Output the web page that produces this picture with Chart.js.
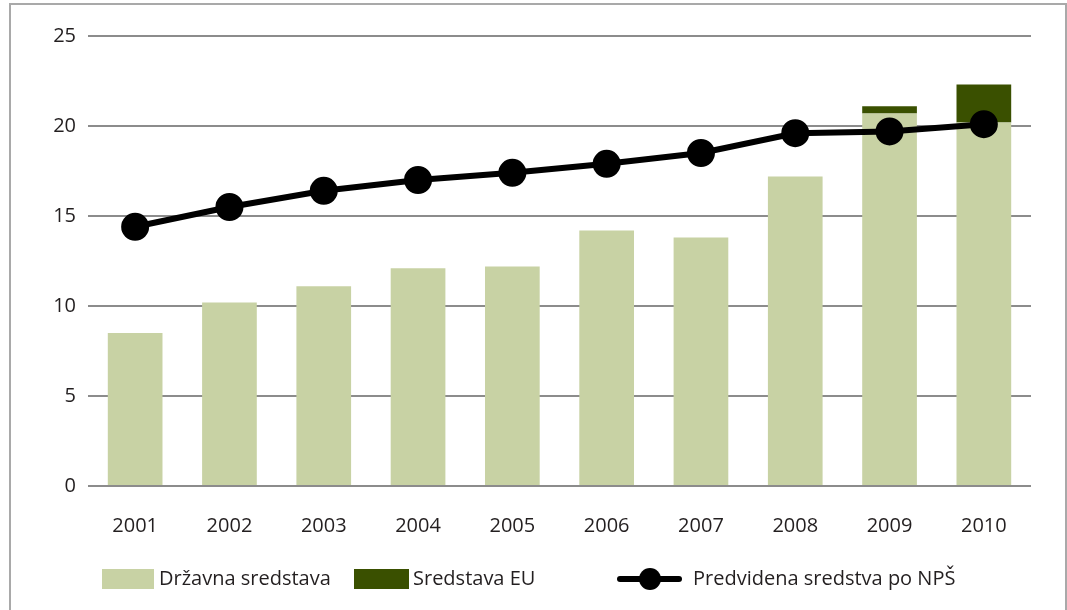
<!DOCTYPE html>
<html>
<head>
<meta charset="utf-8">
<script src="https://cdn.jsdelivr.net/npm/chart.js@4"></script>
<style>
  body { margin: 0; background: #fff; }
  #wrap { position: relative; width: 1067px; height: 610px; }
  #frame { position: absolute; left: 9px; top: 3px; width: 1058px; height: 610px; border: 2px solid #a9a9a9; border-bottom: none; box-sizing: border-box; }
  canvas { position: absolute; left: 0; top: 0; }
  .legend { position: absolute; top: 566px; font-family: "Open Sans", sans-serif; font-size: 20px; color: #231f20; line-height: 24px; }
  .item { position: absolute; white-space: nowrap; }
  .sw { position: absolute; top: 3px; height: 20px; }
</style>
</head>
<body>
<div id="wrap">
  <div id="frame"></div>
  <canvas id="chart" width="1067" height="610"></canvas>
  <div class="legend" id="legend"></div>
</div>
<script>
// data
const years = ["2001", "2002", "2003", "2004", "2005", "2006", "2007", "2008", "2009", "2010"];
const drzavna = [8.5, 10.2, 11.1, 12.1, 12.2, 14.2, 13.8, 17.2, 20.7, 20.2];
const eu = [0, 0, 0, 0, 0, 0, 0, 0, 0.4, 2.1];
const nps = [14.4, 15.5, 16.4, 17.0, 17.4, 17.9, 18.5, 19.6, 19.7, 20.1];
const yTicks = [0, 5, 10, 15, 20, 25];

const labels = ["Državna sredstava", "Sredstava EU", "Predvidena sredstva po NPŠ"];
const lightGreen = "#c8d2a4";
const darkGreen = "#3a5000";

const ctx = document.getElementById("chart").getContext("2d");

new Chart(ctx, {
    type: "bar",
    data: {
        labels: years,
        datasets: [
            {
                type: "line",
                label: labels[2],
                data: nps,
                stack: "line",
                borderColor: "#000",
                backgroundColor: "#000",
                borderWidth: 6,
                pointRadius: 11,
                pointHoverRadius: 11,
                pointBackgroundColor: "#000",
                tension: 0,
                order: 0
            },
            {
                label: labels[0],
                data: drzavna,
                stack: "bars",
                backgroundColor: lightGreen,
                categoryPercentage: 1,
                barPercentage: 0.58,
                order: 1
            },
            {
                label: labels[1],
                data: eu,
                stack: "bars",
                backgroundColor: darkGreen,
                categoryPercentage: 1,
                barPercentage: 0.58,
                order: 1
            }
        ]
    },
    options: {
        responsive: false,
        animation: false,
        layout: { padding: { left: 0, right: 36, top: 36, bottom: 64 } },
        plugins: {
            legend: { display: false },
            tooltip: { enabled: false }
        },
        scales: {
            x: {
                stacked: true,
                grid: { display: false },
                border: { display: false },
                ticks: {
                    color: "#231f20",
                    font: { family: "Open Sans", size: 20 },
                    padding: 20
                },
                afterFit: function (scale) { scale.height = 60; }
            },
            y: {
                stacked: true,
                min: 0,
                max: 25,
                afterBuildTicks: function (scale) {
                    scale.ticks = yTicks.map(v => ({ value: v }));
                },
                grid: { color: "#8c8c8c", lineWidth: 2, drawTicks: false },
                border: { display: false },
                ticks: {
                    color: "#231f20",
                    font: { family: "Open Sans", size: 20 },
                    padding: 12
                },
                afterFit: function (scale) { scale.width = 88; }
            }
        }
    }
});

// legend
const legend = document.getElementById("legend");
const items = [
    { x: 102, w: 52, kind: "box", color: lightGreen, tx: 159 },
    { x: 354, w: 55, kind: "box", color: darkGreen, tx: 413 },
    { x: 617, w: 65, kind: "line", color: "#000", tx: 693 }
];
items.forEach(function (it, i) {
    const sw = document.createElement("div");
    sw.className = "sw";
    sw.style.left = it.x + "px";
    sw.style.width = it.w + "px";
    if (it.kind === "box") {
        sw.style.background = it.color;
    } else {
        sw.innerHTML = '<div style="position:absolute;left:0;right:0;top:7px;height:6px;border-radius:3px;background:#000"></div>' +
            '<div style="position:absolute;left:' + (it.w / 2 - 11) + 'px;top:-1px;width:22px;height:22px;border-radius:11px;background:#000"></div>';
    }
    legend.appendChild(sw);
    const t = document.createElement("div");
    t.className = "item";
    t.style.left = it.tx + "px";
    t.textContent = labels[i];
    legend.appendChild(t);
});
</script>
</body>
</html>
